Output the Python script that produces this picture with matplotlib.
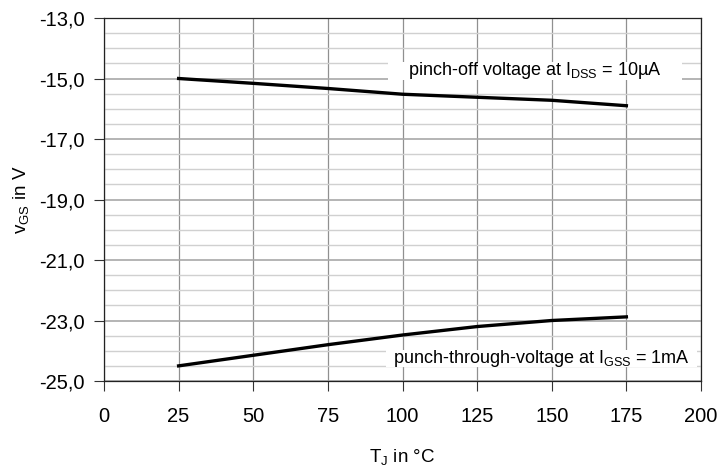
import numpy as np
import matplotlib
matplotlib.use("Agg")
import matplotlib.pyplot as plt
from matplotlib.patches import Rectangle

plt.rcParams['font.family'] = ['Liberation Sans', 'DejaVu Sans']
plt.rcParams['mathtext.fontset'] = 'custom'
plt.rcParams['mathtext.rm'] = 'Liberation Sans'

temps = [25, 50, 75, 100, 125, 150, 175]
pinch_off = [-15.0, -15.16, -15.33, -15.52, -15.62, -15.72, -15.9]
punch_through = [-24.5, -24.15, -23.8, -23.48, -23.2, -23.0, -22.88]

x_ticks = [0, 25, 50, 75, 100, 125, 150, 175, 200]
y_ticks = [-25, -23, -21, -19, -17, -15, -13]
y_tick_labels = ["-25,0", "-23,0", "-21,0", "-19,0", "-17,0", "-15,0", "-13,0"]

fig = plt.figure(figsize=(7.18, 4.73), dpi=100)
ax = fig.add_axes([104/718, 1 - 381/473, (701-104)/718, (381-18)/473])

ax.set_xlim(0, 200)
ax.set_ylim(-25, -13)
ax.set_xticks(x_ticks)
ax.set_yticks(y_ticks)
ax.set_yticklabels(y_tick_labels)
ax.set_yticks(np.arange(-25, -12.9, 0.5), minor=True)
ax.tick_params(axis='y', which='minor', length=0)
ax.tick_params(axis='both', which='major', direction='out', length=7,
               width=0.8, color='#333333', labelsize=14.5)
ax.tick_params(axis='y', pad=7)
ax.tick_params(axis='x', pad=12)

ax.grid(True, axis='y', which='minor', color='#d0d0d0', linewidth=1)
ax.grid(True, axis='y', which='major', color='#a8a8a8', linewidth=1.2)
ax.grid(True, axis='x', which='major', color='#909090', linewidth=0.9)
ax.set_axisbelow(True)

for s in ax.spines.values():
    s.set_color('#222222')
    s.set_linewidth(0.9)

ax.plot(temps, pinch_off, color='black', linewidth=2.4)
ax.plot(temps, punch_through, color='black', linewidth=2.4)

# white label boxes
ax.add_patch(Rectangle((95, -15.04), 98.5, 0.57, facecolor='white',
                       edgecolor='none', zorder=2.5))
ax.add_patch(Rectangle((94.5, -24.53), 104.2, 0.56, facecolor='white',
                       edgecolor='none', zorder=2.5))
ax.text(144.4, -14.75, r"pinch-off voltage at I$_{\mathregular{DSS}}$ = 10µA",
        ha='center', va='center', fontsize=13, zorder=3)
ax.text(146.7, -24.24, r"punch-through-voltage at I$_{\mathregular{GSS}}$ = 1mA",
        ha='center', va='center', fontsize=13, zorder=3)

ax.set_xlabel(r"T$_{\mathregular{J}}$ in °C", fontsize=13.5)
ax.set_ylabel(r"v$_{\mathregular{GS}}$ in V", fontsize=13.5)
ax.xaxis.set_label_coords(0.5, -0.212)
ax.yaxis.set_label_coords(-0.137, 0.5)
ax.xaxis.label.set_va('center')
ax.yaxis.label.set_va('center')

fig.savefig("out.png", dpi=100)
